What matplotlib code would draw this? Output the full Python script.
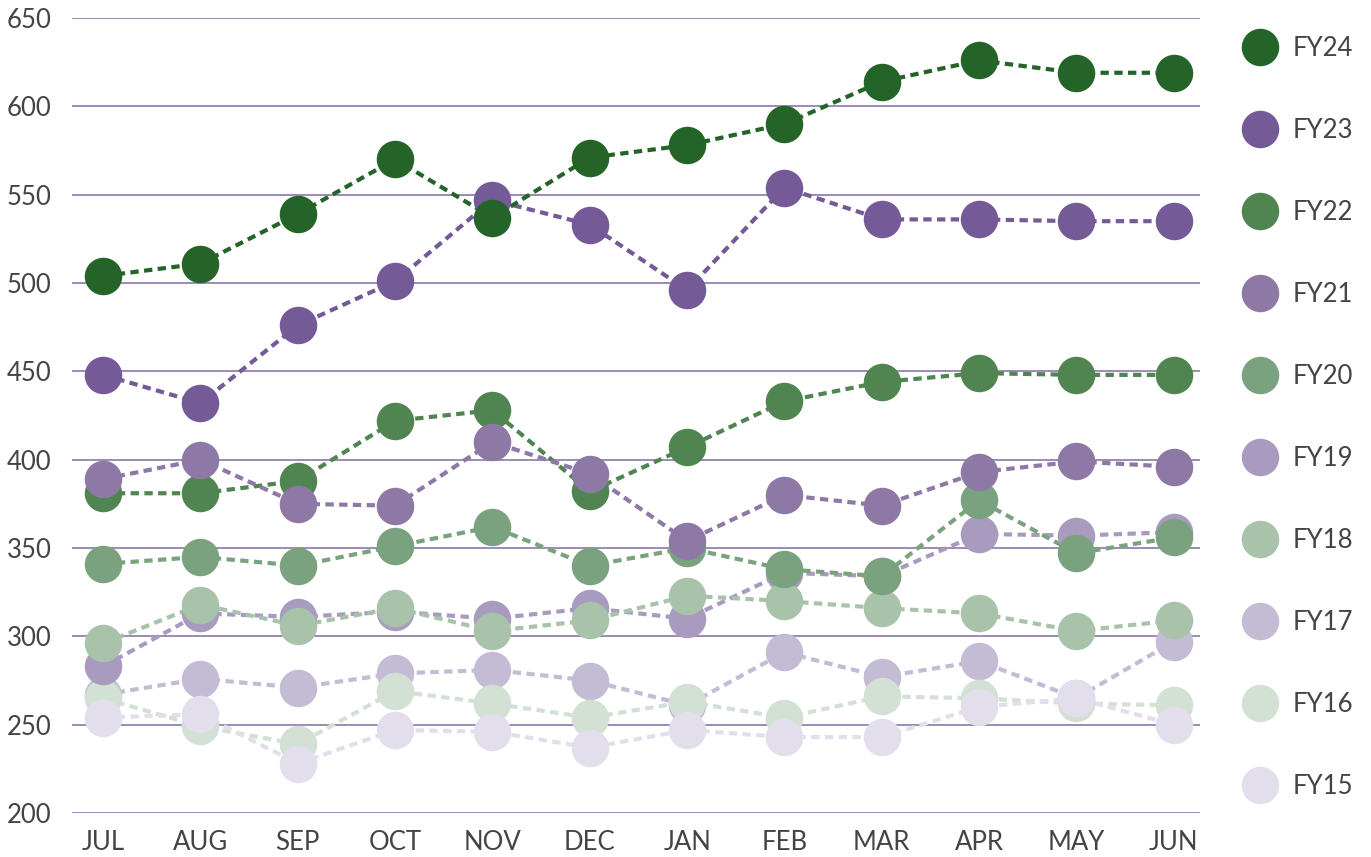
import matplotlib.pyplot as plt
from matplotlib.lines import Line2D

plt.rcParams['font.family'] = ['Lato', 'DejaVu Sans']

months = ['JUL', 'AUG', 'SEP', 'OCT', 'NOV', 'DEC', 'JAN', 'FEB', 'MAR', 'APR', 'MAY', 'JUN']

fy24 = [504, 511, 539, 570, 537, 571, 578, 590, 614, 626, 619, 619]
fy23 = [448, 432, 476, 501, 547, 533, 496, 554, 536, 536, 535, 535]
fy22 = [381, 381, 388, 422, 428, 382, 407, 433, 444, 449, 448, 448]
fy21 = [389, 400, 375, 374, 410, 392, 354, 380, 374, 393, 399, 396]
fy20 = [341, 345, 340, 351, 362, 340, 350, 338, 334, 377, 347, 356]
fy19 = [283, 313, 311, 314, 310, 316, 310, 336, 334, 358, 357, 359]
fy18 = [296, 318, 306, 316, 303, 309, 323, 320, 316, 313, 303, 309]
fy17 = [267, 276, 271, 279, 281, 275, 261, 291, 277, 286, 265, 297]
fy16 = [265, 249, 239, 269, 262, 254, 263, 254, 266, 265, 262, 261]
fy15 = [254, 256, 228, 247, 246, 237, 247, 243, 243, 260, 265, 250]

labels = ['FY24', 'FY23', 'FY22', 'FY21', 'FY20', 'FY19', 'FY18', 'FY17', 'FY16', 'FY15']
series = [fy24, fy23, fy22, fy21, fy20, fy19, fy18, fy17, fy16, fy15]
colors = ['#256428', '#745a96', '#508552', '#8e78a5', '#7ba27e',
          '#a99bbf', '#a8c3aa', '#c4bbd4', '#d3e0d4', '#e2deeb']
# stacking of the circles, higher on top
layer = [10, 9, 6, 8, 7, 4, 5, 1, 2, 3]

fig = plt.figure(figsize=(13.71, 8.57), dpi=100)
ax = fig.add_axes([0.0525, 0.0513, 0.8228, 0.9277])

x = list(range(len(months)))
for vals, col, z in zip(series, colors, layer):
    ax.plot(x, vals, color=col, lw=3, linestyle=(0, (2, 1.3)), zorder=2 + z * 0.01)
    ax.plot(x, vals, 'o', color=col, markersize=27, markeredgewidth=0, zorder=3 + z * 0.01)

ax.set_ylim(200, 650)
ax.set_xlim(-0.32, 11.27)
ax.set_yticks(range(200, 651, 50))
ax.set_xticks(x)
ax.set_xticklabels(months)
ax.yaxis.grid(True, color='#7f6ca2', lw=1.1)
ax.set_axisbelow(True)
for s in ax.spines.values():
    s.set_visible(False)
ax.tick_params(length=0, labelsize=18.5, labelcolor='#444444')
ax.tick_params(axis='x', pad=12)
for t in ax.get_yticklabels():
    t.set_horizontalalignment('left')
    t.set_x(-0.0525 / 0.8228 + 0.006)
    t.set_transform(ax.get_yaxis_transform())

handles = [Line2D([], [], marker='o', color=c, linestyle='none', markersize=27,
                  markeredgewidth=0) for c in colors]
ax.legend(handles, labels, loc='upper left', bbox_to_anchor=(1.014, 1.0),
          frameon=False, fontsize=18.5, labelspacing=2.22, handletextpad=0.3,
          labelcolor='#444444', borderaxespad=0.3)

plt.savefig('out.png')
